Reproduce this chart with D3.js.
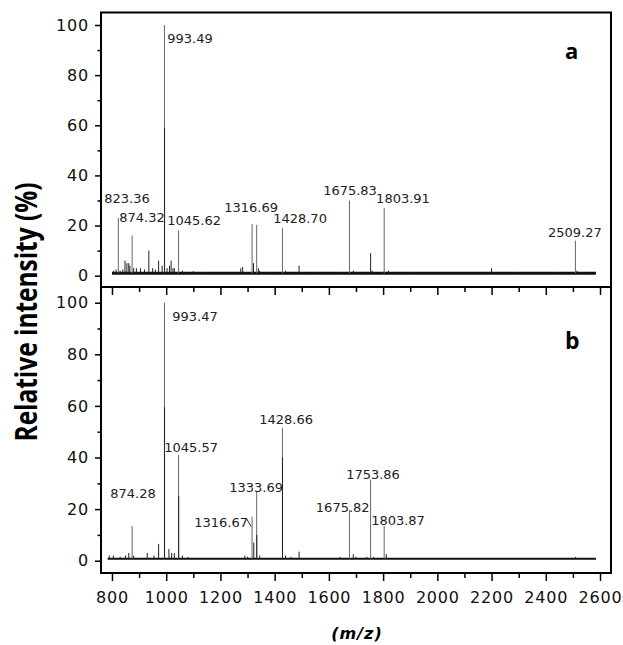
<!DOCTYPE html>
<html>
<head>
<meta charset="utf-8">
<script src="https://cdn.jsdelivr.net/npm/d3@7"></script>
<style>
  body { margin: 0; background: #fff; }
  svg { display: block; }
  .tick text { font-family: "DejaVu Sans", sans-serif; font-size: 16px; letter-spacing: 0.8px; fill: #111; }
  .lbl { font-family: "DejaVu Sans", sans-serif; font-size: 13px; fill: #222; }
</style>
</head>
<body>
<svg id="chart" width="623" height="645"></svg>
<script>
// spectrum a : labelled peaks (m/z, relative intensity %)
var peaksA_mz  = [823.36, 874.32, 993.49, 1045.62, 1316.69, 1333.7, 1428.70, 1675.83, 1803.91, 2509.27];
var peaksA_int = [23, 16, 100, 18, 20.6, 20.3, 19, 30, 27, 14];
var labelsA    = ["823.36", "874.32", "993.49", "1045.62", "1316.69", null, "1428.70", "1675.83", "1803.91", "2509.27"];
// label anchors in data units (m/z, %)
var labelA_x   = [771.6, 826.9, 1003.8, 1003.8, 1213.9, null, 1394.5, 1578.8, 1774.2, 2408.2];
var labelA_y   = [29.0, 21.4, 92.8, 20.2, 25.4, null, 21.0, 32.2, 29.0, 15.4];
// small peaks / noise
var minorA_mz  = [806, 815, 830, 840, 848, 855, 862, 866, 880, 890, 905, 920, 936, 950, 960, 972, 985, 994, 1003, 1012, 1018, 1025, 1030, 1060, 1100, 1150, 1275, 1282, 1322, 1340, 1345, 1380, 1440, 1490, 1560, 1650, 1690, 1753.9, 1760, 1820, 1900, 2200, 2300, 2450, 2515];
var minorA_int = [2, 2.5, 2, 2.5, 6, 5, 5, 4, 3, 3, 3, 2.5, 10, 3, 2.5, 6, 4, 59, 3, 4, 6, 3, 3, 2, 1.8, 1.5, 3, 3.5, 5, 3, 2, 1.5, 2, 4, 1.5, 1.5, 2, 9, 2, 2, 1.5, 3, 1.5, 1.5, 2];

// spectrum b
var peaksB_mz  = [874.28, 993.47, 1045.57, 1316.67, 1333.69, 1428.66, 1675.82, 1753.86, 1803.87];
var peaksB_int = [13.4, 100, 41, 17, 26.7, 51.5, 19.6, 31.5, 13.4];
var labelsB    = ["874.28", "993.47", "1045.57", "1316.67", "1333.69", "1428.66", "1675.82", "1753.86", "1803.87"];
var labelB_x   = [793.7, 1022.3, 992.8, 1103.4, 1232.4, 1342.9, 1551.9, 1663.6, 1755.8];
var labelB_y   = [24.3, 92.9, 42.1, 13.1, 26.6, 53.0, 19.0, 31.7, 13.8];
var minorB_mz  = [790, 805, 830, 850, 862, 880, 930, 955, 972, 994, 1010, 1020, 1030, 1046, 1060, 1080, 1290, 1300, 1323, 1334, 1345, 1429, 1440, 1460, 1490, 1640, 1690, 1700, 1740, 1765, 1812, 2510];
var minorB_int = [2, 2, 1.5, 2, 3, 2, 3, 2, 6.5, 59.5, 4.5, 3, 3, 25, 2, 1.5, 2, 1.5, 7, 10, 2, 40, 2, 1.5, 3.5, 1.5, 2.5, 1.5, 1.5, 1.5, 2.5, 1.5];

var xMajor = [800, 1000, 1200, 1400, 1600, 1800, 2000, 2200, 2400, 2600];
var xMinor = [900, 1100, 1300, 1500, 1700, 1900, 2100, 2300, 2500];
var yMajor = [0, 20, 40, 60, 80, 100];
var yMinor = [10, 30, 50, 70, 90];
var mzEnd = 2585;

var svg = d3.select("#chart");
var X0 = 101, X1 = 611;
var x = d3.scaleLinear().domain([759.5, 2640.5]).range([X0, X1]);

var panels = [
  { top: 12.5, bottom: 287, y0: 275.7, y100: 25, name: "a", nameY: 59,
    start: 800, base: 1.0, baseW: 3,
    mz: peaksA_mz, inten: peaksA_int, labels: labelsA, lx: labelA_x, ly: labelA_y, mmz: minorA_mz, mint: minorA_int },
  { top: 287, bottom: 573, y0: 560.7, y100: 302.7, name: "b", nameY: 349,
    start: 784, base: 0.8, baseW: 2,
    mz: peaksB_mz, inten: peaksB_int, labels: labelsB, lx: labelB_x, ly: labelB_y, mmz: minorB_mz, mint: minorB_int }
];

panels.forEach(function(p, k) {
  var y = d3.scaleLinear().domain([0, 100]).range([p.y0, p.y100]);
  var g = svg.append("g");

  // y axis ticks
  var ya = g.append("g").attr("transform", "translate(" + X0 + ",0)")
    .call(d3.axisLeft(y).tickValues(yMajor).tickSize(6).tickPadding(6));
  ya.select(".domain").remove();
  ya.selectAll("line").attr("stroke-width", 1.5);
  var ym = g.append("g").attr("transform", "translate(" + X0 + ",0)")
    .call(d3.axisLeft(y).tickValues(yMinor).tickSize(3.5).tickFormat(""));
  ym.select(".domain").remove();
  ym.selectAll("line").attr("stroke-width", 1.5);

  // x ticks under each panel
  var xa = g.append("g").attr("transform", "translate(0," + p.bottom + ")")
    .call(d3.axisBottom(x).tickValues(xMajor).tickSize(8).tickPadding(5)
      .tickFormat(k === 1 ? d3.format("d") : ""));
  xa.select(".domain").remove();
  xa.selectAll("line").attr("stroke-width", 1.5);
  xa.selectAll("text").attr("dy", null).attr("y", 30.3);
  var xm = g.append("g").attr("transform", "translate(0," + p.bottom + ")")
    .call(d3.axisBottom(x).tickValues(xMinor).tickSize(5).tickFormat(""));
  xm.select(".domain").remove();
  xm.selectAll("line").attr("stroke-width", 1.5);

  // baseline
  g.append("line")
    .attr("x1", x(p.start)).attr("x2", x(mzEnd))
    .attr("y1", y(p.base)).attr("y2", y(p.base))
    .attr("stroke", "#111").attr("stroke-width", p.baseW);

  // main peaks (thin, greyish)
  g.selectAll(".pk").data(d3.range(p.mz.length)).enter().append("line")
    .attr("x1", function(i) { return x(p.mz[i]); })
    .attr("x2", function(i) { return x(p.mz[i]); })
    .attr("y1", y(p.base)).attr("y2", function(i) { return y(p.inten[i]); })
    .attr("stroke", "#666").attr("stroke-width", 1);

  // small peaks (darker)
  g.selectAll(".mn").data(d3.range(p.mmz.length)).enter().append("line")
    .attr("x1", function(i) { return x(p.mmz[i]); })
    .attr("x2", function(i) { return x(p.mmz[i]); })
    .attr("y1", y(p.base)).attr("y2", function(i) { return y(p.mint[i]); })
    .attr("stroke", "#222").attr("stroke-width", 1);

  // peak labels
  p.labels.forEach(function(t, i) {
    if (!t) return;
    g.append("text").attr("class", "lbl")
      .attr("x", x(p.lx[i])).attr("y", y(p.ly[i]))
      .text(t);
  });

  // leader for 1316.67 in b
  if (k === 1) {
    g.append("line")
      .attr("x1", x(1295)).attr("y1", y(16.5))
      .attr("x2", x(1313)).attr("y2", y(13.3))
      .attr("stroke", "#222").attr("stroke-width", 1);
  }

  // panel letter
  g.append("text")
    .attr("x", 565).attr("y", p.nameY)
    .attr("font-family", "'Open Sans', sans-serif").attr("font-weight", "bold")
    .attr("font-size", k === 0 ? 22 : 23)
    .text(p.name);

  // frame
  g.append("rect")
    .attr("x", X0).attr("y", p.top)
    .attr("width", X1 - X0).attr("height", p.bottom - p.top)
    .attr("fill", "none").attr("stroke", "#000").attr("stroke-width", 2);
});

// axis titles
svg.append("text")
  .attr("transform", "translate(37,312) scale(1.4,1) rotate(-90)")
  .attr("text-anchor", "middle")
  .attr("font-family", "'Open Sans', sans-serif").attr("font-weight", "bold")
  .attr("font-size", 22)
  .attr("textLength", 259).attr("lengthAdjust", "spacingAndGlyphs")
  .text("Relative intensity (%)");

svg.append("text")
  .attr("x", 357).attr("y", 639)
  .attr("text-anchor", "middle")
  .attr("font-family", "'DejaVu Sans', sans-serif").attr("font-weight", "bold")
  .attr("font-style", "italic").attr("font-size", 16).attr("letter-spacing", 1)
  .text("(m/z)");
</script>
</body>
</html>
